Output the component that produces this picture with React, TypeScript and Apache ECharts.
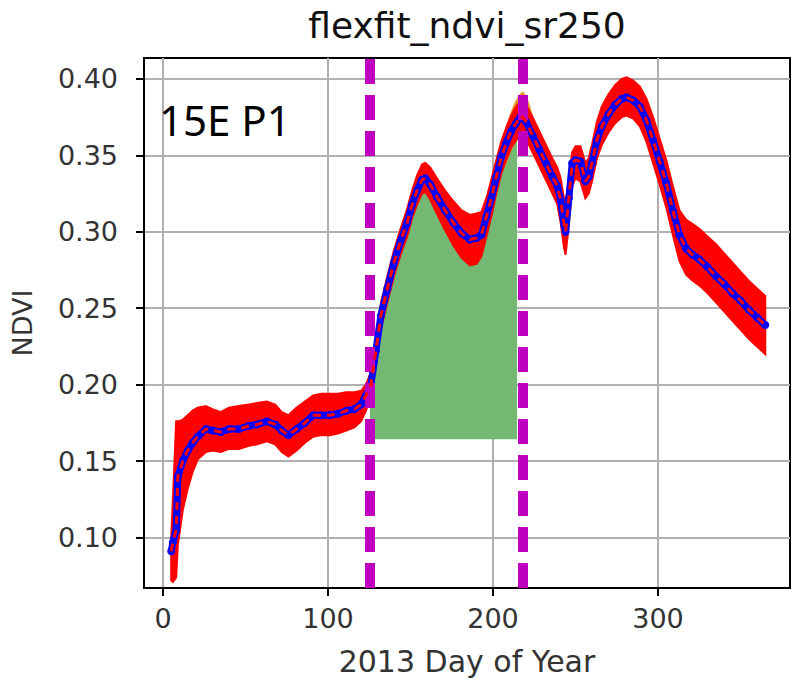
import React, { useEffect, useRef } from "react";
import * as echarts from "echarts";

// ---- data ----
const days = [5, 6, 8, 9, 12, 15, 18, 21, 26, 30, 35, 40, 46, 52, 57, 63, 68, 72, 76, 81, 86, 91, 96, 101, 106, 111, 116, 120, 123, 126, 129, 132, 136, 140, 144, 148, 151, 154, 157, 159, 162, 166, 171, 176, 181, 186, 190, 193, 196, 199, 202, 205, 208, 211, 214, 217, 220, 224, 228, 232, 236, 239, 241, 243, 244, 246, 248, 250, 253, 256, 258, 260, 263, 266, 270, 274, 278, 281, 285, 289, 293, 297, 301, 305, 309, 313, 317, 321, 325, 330, 335, 340, 345, 350, 355, 360, 365];
const ndvi = [0.091, 0.097, 0.105, 0.140, 0.150, 0.157, 0.162, 0.166, 0.171, 0.170, 0.169, 0.171, 0.171, 0.173, 0.174, 0.176, 0.174, 0.170, 0.167, 0.171, 0.175, 0.180, 0.180, 0.180, 0.181, 0.183, 0.184, 0.187, 0.193, 0.200, 0.222, 0.245, 0.263, 0.280, 0.294, 0.306, 0.318, 0.327, 0.334, 0.335, 0.331, 0.323, 0.314, 0.306, 0.299, 0.295, 0.296, 0.298, 0.310, 0.322, 0.336, 0.349, 0.358, 0.366, 0.371, 0.376, 0.372, 0.363, 0.354, 0.345, 0.336, 0.330, 0.321, 0.305, 0.300, 0.322, 0.345, 0.347, 0.346, 0.333, 0.336, 0.345, 0.360, 0.369, 0.377, 0.383, 0.387, 0.388, 0.386, 0.382, 0.373, 0.360, 0.346, 0.332, 0.314, 0.298, 0.289, 0.285, 0.282, 0.277, 0.271, 0.266, 0.260, 0.255, 0.249, 0.244, 0.239];
const bandLow = [0.072, 0.071, 0.074, 0.095, 0.118, 0.132, 0.143, 0.151, 0.156, 0.157, 0.156, 0.158, 0.158, 0.160, 0.161, 0.163, 0.161, 0.156, 0.153, 0.157, 0.162, 0.166, 0.167, 0.167, 0.168, 0.170, 0.172, 0.176, 0.183, 0.192, 0.213, 0.236, 0.254, 0.271, 0.285, 0.297, 0.309, 0.318, 0.325, 0.326, 0.321, 0.312, 0.301, 0.291, 0.283, 0.278, 0.279, 0.284, 0.297, 0.310, 0.325, 0.338, 0.347, 0.355, 0.360, 0.365, 0.361, 0.352, 0.343, 0.334, 0.325, 0.318, 0.306, 0.290, 0.285, 0.305, 0.330, 0.335, 0.333, 0.322, 0.325, 0.333, 0.348, 0.357, 0.365, 0.371, 0.375, 0.376, 0.374, 0.369, 0.359, 0.345, 0.331, 0.316, 0.298, 0.281, 0.272, 0.268, 0.265, 0.260, 0.254, 0.248, 0.242, 0.236, 0.230, 0.225, 0.220];
const bandHigh = [0.100, 0.125, 0.176, 0.176, 0.177, 0.180, 0.183, 0.185, 0.186, 0.184, 0.182, 0.185, 0.186, 0.187, 0.188, 0.189, 0.187, 0.182, 0.180, 0.185, 0.189, 0.193, 0.194, 0.194, 0.194, 0.195, 0.195, 0.196, 0.200, 0.208, 0.230, 0.253, 0.271, 0.288, 0.302, 0.315, 0.327, 0.337, 0.344, 0.345, 0.342, 0.335, 0.327, 0.320, 0.314, 0.311, 0.312, 0.313, 0.322, 0.334, 0.347, 0.359, 0.368, 0.376, 0.382, 0.386, 0.383, 0.375, 0.366, 0.357, 0.348, 0.342, 0.335, 0.322, 0.318, 0.335, 0.352, 0.356, 0.356, 0.345, 0.348, 0.357, 0.372, 0.382, 0.390, 0.396, 0.400, 0.401, 0.399, 0.395, 0.387, 0.375, 0.361, 0.347, 0.330, 0.314, 0.308, 0.305, 0.302, 0.297, 0.292, 0.286, 0.280, 0.274, 0.268, 0.263, 0.258];

const orangeDays = [207, 210, 213, 216, 218, 220, 222, 224];
const orangeLow = [0.343, 0.352, 0.358, 0.363, 0.364, 0.361, 0.357, 0.352];
const orangeHigh = [0.364, 0.374, 0.383, 0.389, 0.391, 0.388, 0.382, 0.374];

const seasonStart = 125.5;
const seasonEnd = 218;
const greenFrom = 126;
const greenTo = 214;
const greenBase = 0.165;

const xTicks = [0, 100, 200, 300];
const yTicks = [0.1, 0.15, 0.2, 0.25, 0.3, 0.35, 0.4];

const FONT = "DejaVu Sans";

function bandSeries(name: string, xs: number[], lo: number[], hi: number[], color: string, z: number) {
  return {
    type: "custom",
    name,
    z,
    silent: true,
    clip: true,
    data: [[xs[0], lo[0]]],
    renderItem: (_p: any, api: any) => {
      const pts: number[][] = [];
      for (let i = 0; i < xs.length; i++) pts.push(api.coord([xs[i], hi[i]]));
      for (let i = xs.length - 1; i >= 0; i--) pts.push(api.coord([xs[i], lo[i]]));
      return {
        type: "polygon",
        shape: { points: pts },
        style: { fill: color, stroke: color, lineWidth: 2 },
      };
    },
  };
}

export default function App() {
  const ref = useRef<HTMLDivElement>(null);
  useEffect(() => {
    document.body.style.margin = "0";
    if (!ref.current) return;
    const chart = echarts.init(ref.current, null, { renderer: "svg" });

    const gx: number[] = [];
    const gy: number[] = [];
    for (let i = 0; i < days.length; i++) {
      if (days[i] >= greenFrom && days[i] <= greenTo) {
        gx.push(days[i]);
        gy.push(ndvi[i]);
      }
    }
    const gLow = gx.map(() => greenBase);

    const option: any = {
      animation: false,
      backgroundColor: "#fff",
      title: {
        text: "flexfit_ndvi_sr250",
        left: 462,
        top: 2,
        textAlign: "center",
        textStyle: { fontFamily: FONT, fontSize: 36, fontWeight: "normal", color: "#111" },
      },
      grid: {
        left: 144,
        top: 58,
        right: 2,
        bottom: 92,
        show: true,
        borderColor: "#000",
        borderWidth: 2,
        backgroundColor: "transparent",
      },
      xAxis: {
        type: "value",
        min: -11.5,
        max: 380,
        name: "2013 Day of Year",
        nameLocation: "middle",
        nameGap: 58,
        nameTextStyle: { fontFamily: FONT, fontSize: 30, color: "#333" },
        axisLine: { show: true, onZero: false, lineStyle: { color: "#000", width: 2 } },
        axisTick: { show: true, length: 8, customValues: xTicks, lineStyle: { color: "#000", width: 2 } },
        axisLabel: { customValues: xTicks, fontFamily: FONT, fontSize: 27, color: "#333", margin: 17 },
        splitLine: { show: true, lineStyle: { color: "#b0b0b0", width: 2 } },
      },
      yAxis: {
        type: "value",
        min: 0.067,
        max: 0.4137,
        name: "NDVI",
        nameLocation: "middle",
        nameGap: 108,
        nameRotate: 90,
        nameTextStyle: { fontFamily: FONT, fontSize: 27, color: "#333" },
        axisLine: { show: true, onZero: false, lineStyle: { color: "#000", width: 2 } },
        axisTick: { show: true, length: 8, customValues: yTicks, lineStyle: { color: "#000", width: 2 } },
        axisLabel: {
          customValues: yTicks,
          fontFamily: FONT,
          fontSize: 27,
          color: "#333",
          margin: 26,
          formatter: (v: number) => v.toFixed(2),
        },
        splitLine: { show: true, lineStyle: { color: "#b0b0b0", width: 2 } },
      },
      graphic: [
        {
          type: "text",
          left: 159,
          top: 98,
          z: 100,
          style: { text: "15E P1", fontFamily: "Noto Sans", fontSize: 42, fill: "#000" },
        },
      ],
      series: [
        bandSeries("season", [...gx, gx[gx.length - 1]], [...gLow, greenBase], [...gy, gy[gy.length - 1]], "#74b874", 1),
        bandSeries("orange band", orangeDays, orangeLow, orangeHigh, "#e99a2c", 2),
        bandSeries("uncertainty", days, bandLow, bandHigh, "#ff0000", 3),
        {
          type: "line",
          name: "fit",
          z: 4,
          data: days.map((d, i) => [d, ndvi[i]]),
          symbol: "circle",
          symbolSize: 8,
          showSymbol: true,
          itemStyle: { color: "#0000ff" },
          lineStyle: { color: "#0000ff", width: 7 },
          silent: true,
        },
        {
          type: "line",
          name: "fit dashed",
          z: 5,
          data: days.map((d, i) => [d, ndvi[i]]),
          symbol: "none",
          lineStyle: { color: "#ff0000", width: 3, type: [8, 6] },
          silent: true,
          markLine: {
            silent: true,
            symbol: "none",
            label: { show: false },
            lineStyle: { color: "#bf00bf", width: 10, type: [25, 11] },
            data: [{ xAxis: seasonStart }, { xAxis: seasonEnd }],
          },
        },
      ],
    };
    chart.setOption(option);
    return () => chart.dispose();
  }, []);
  return <div ref={ref} style={{ width: 792, height: 681 }} />;
}
